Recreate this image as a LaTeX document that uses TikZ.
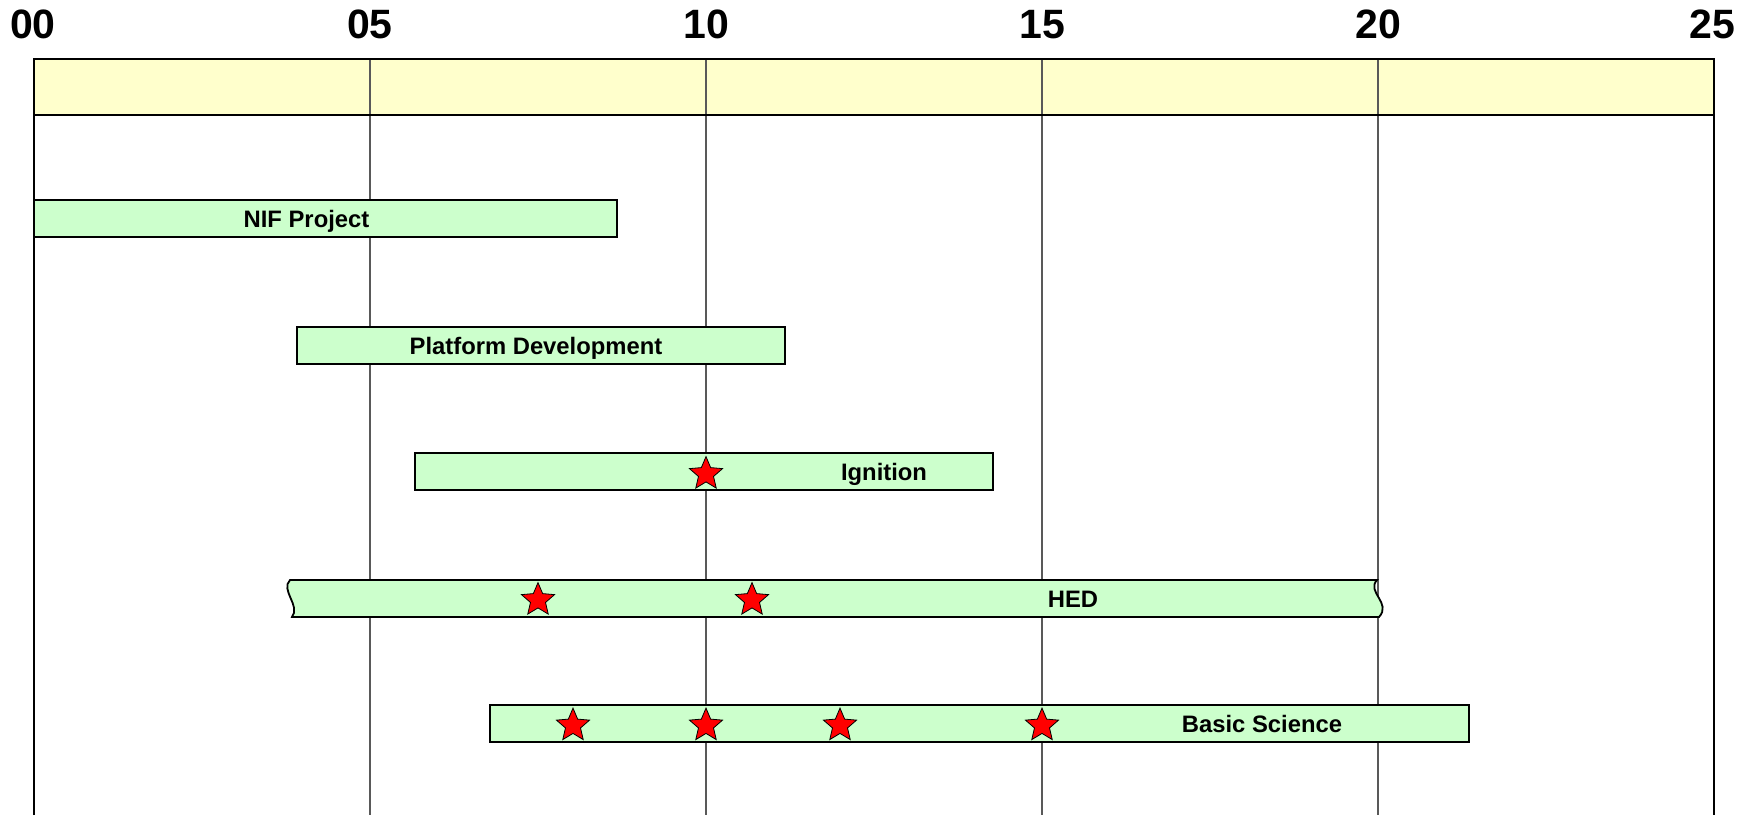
\documentclass[tikz,border=0pt]{standalone}
\usepackage{fontspec}
\setmainfont{Liberation Sans}
\usetikzlibrary{shapes.geometric}
\definecolor{band}{HTML}{FFFFCC}
\definecolor{barfill}{HTML}{CCFFCC}
\tikzset{
  gridline/.style={draw=black!65, line width=0.55pt},
  frameline/.style={draw=black, line width=1.2pt},
  bar/.style={draw=black, line width=0.9pt, fill=barfill, rectangle, inner sep=0pt, minimum height=18.5pt},
  barlabel/.style={font=\bfseries\fontsize{11.9}{14}\selectfont, inner sep=0pt, anchor=base},
  yearlabel/.style={font=\bfseries\fontsize{20.5}{24}\selectfont, inner sep=0pt, anchor=base},
  redstar/.style={star, star points=5, star point ratio=2.2, fill=red, draw=black, line width=0.4pt, inner sep=0pt, minimum size=17.4pt}
}
\begin{document}
\begin{tikzpicture}[x=0.5pt,y=-0.5pt]
\useasboundingbox (0,0) rectangle (1757,815);
% header band
\fill[band] (34,59) rectangle (1714,115);
% grid lines
\foreach \gx in {370,706,1042,1378} \draw[gridline] (\gx,59) -- (\gx,815);
% frame
\draw[frameline] (34,815) -- (34,59) -- (1714,59) -- (1714,815);
\draw[frameline] (34,115) -- (1714,115);
% year labels
\node[yearlabel] (y00) at (33,38) {00};
\node[yearlabel] (y05) at (370,38) {05};
\node[yearlabel] (y10) at (706,38) {10};
\node[yearlabel] (y15) at (1042,38) {15};
\node[yearlabel] (y20) at (1378,38) {20};
\node[yearlabel] (y25) at (1712,38) {25};
% bars
\node[bar, minimum width=291.5pt] (nif) at (325.5,218.5) {};
\node[bar, minimum width=244pt] (plat) at (541,345.5) {};
\node[bar, minimum width=289pt] (ign) at (704,471.5) {};
\node[bar, minimum width=489.5pt] (bsc) at (979.5,723.5) {};
% HED bar with broken ends
\coordinate (hedTL) at (290,580);
\coordinate (hedTR) at (1377,580);
\coordinate (hedBR) at (1379,617);
\coordinate (hedBL) at (292,617);
\draw[line width=0.9pt, fill=barfill] (hedTL) -- (hedTR)
  .. controls (1366,592) and (1392,603) .. (hedBR) -- (hedBL)
  .. controls (301,606) and (280,590) .. cycle;
% labels
\node[barlabel] (nifl) at (306.5,227) {NIF Project};
\node[barlabel] (platl) at (536,354) {Platform Development};
\node[barlabel] (ignl) at (884,480) {Ignition};
\node[barlabel] (hedl) at (1073,607) {HED};
\node[barlabel] (bscl) at (1262,732) {Basic Science};
% stars
\node[redstar] (s1) at (706,474) {};
\node[redstar] (s2) at (538,600) {};
\node[redstar] (s3) at (752,600) {};
\node[redstar] (s4) at (573,725.5) {};
\node[redstar] (s5) at (706,725.5) {};
\node[redstar] (s6) at (840,725.5) {};
\node[redstar] (s7) at (1042,725.5) {};
\end{tikzpicture}
\end{document}
